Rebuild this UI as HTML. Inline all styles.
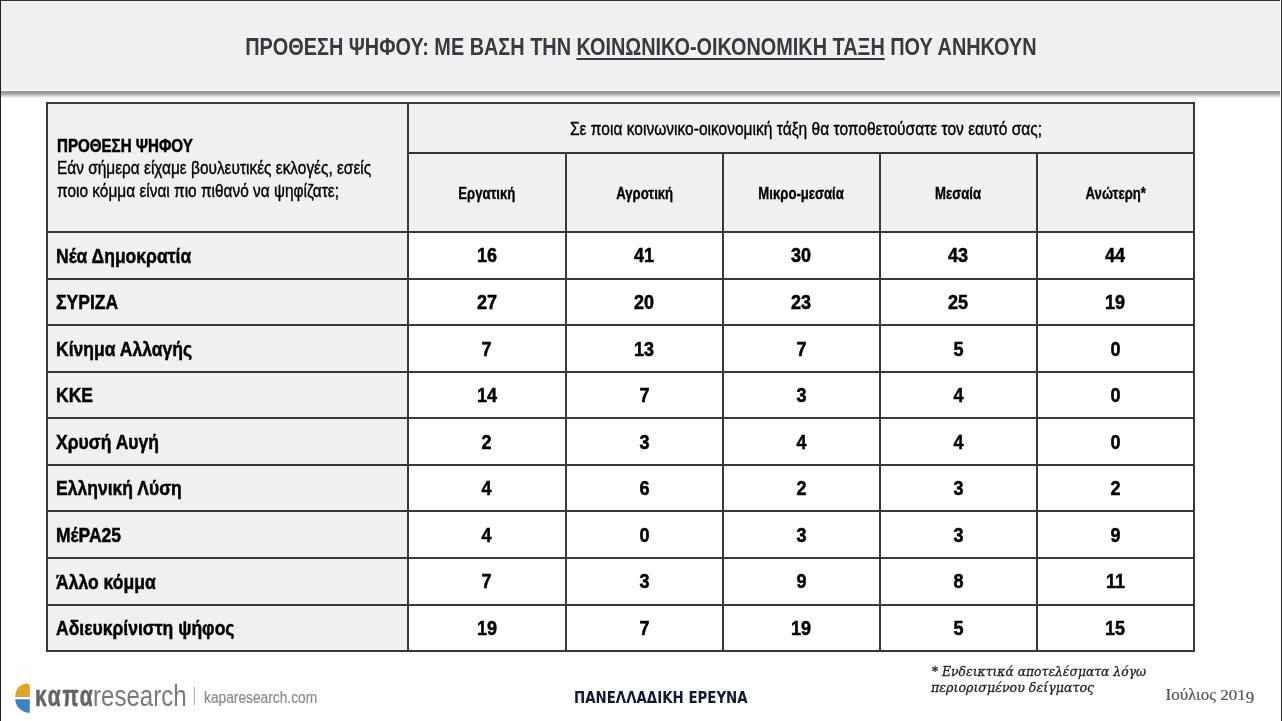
<!DOCTYPE html>
<html lang="el"><head><meta charset="utf-8"><title>Πρόθεση ψήφου</title>
<style>
html,body{margin:0;padding:0;}
body{width:1282px;height:721px;position:relative;overflow:hidden;background:#fff;font-family:'Liberation Sans', Arial, sans-serif;}
.t{position:absolute;white-space:nowrap;transform-origin:0 0;}
.c{position:absolute;white-space:nowrap;text-align:center;}
.c .s{display:inline-block;transform-origin:50% 50%;}
.b{position:absolute;}
</style></head><body>

<div class="b" style="left:0;top:0;width:1282px;height:91px;background:#f0f0f0"></div>
<div class="b" style="left:0;top:89px;width:1282px;height:2px;background:#f5f5f5"></div>
<div class="b" style="left:0;top:91px;width:1282px;height:9px;background:linear-gradient(#939393 0px,#9b9b9b 2px,#b2b2b2 3.5px,#d8d8d8 5px,#f3f3f3 6.5px,#fff 8px)"></div>
<div class="c" style="left:0;width:1282px;top:34.5px;font-size:24px;line-height:24px;font-weight:700;color:#3e3640"><span class="s" style="transform:scaleX(0.828)">ΠΡΟΘΕΣΗ ΨΗΦΟΥ: ΜΕ ΒΑΣΗ ΤΗΝ <span style="text-decoration:underline;text-decoration-thickness:2px;text-underline-offset:3px">ΚΟΙΝΩΝΙΚΟ-ΟΙΚΟΝΟΜΙΚΗ ΤΑΞΗ</span> ΠΟΥ ΑΝΗΚΟΥΝ</span></div>
<div class="b" style="left:46.5px;top:102.5px;width:1147.5px;height:129.55px;background:#f0f0f0"></div>
<div class="b" style="left:46.5px;top:232.05px;width:361.8px;height:419.15000000000003px;background:#f0f0f0"></div>
<div class="b" style="left:45.5px;top:101.5px;width:1149.5px;height:2.0px;background:#383838"></div>
<div class="b" style="left:407.3px;top:152.3px;width:787.7px;height:2.0px;background:#383838"></div>
<div class="b" style="left:45.5px;top:231.05px;width:1149.5px;height:2.0px;background:#383838"></div>
<div class="b" style="left:45.5px;top:277.5px;width:1149.5px;height:2.0px;background:#383838"></div>
<div class="b" style="left:45.5px;top:324.1px;width:1149.5px;height:2.0px;background:#383838"></div>
<div class="b" style="left:45.5px;top:370.7px;width:1149.5px;height:2.0px;background:#383838"></div>
<div class="b" style="left:45.5px;top:417.2px;width:1149.5px;height:2.0px;background:#383838"></div>
<div class="b" style="left:45.5px;top:463.9px;width:1149.5px;height:2.0px;background:#383838"></div>
<div class="b" style="left:45.5px;top:510.4px;width:1149.5px;height:2.0px;background:#383838"></div>
<div class="b" style="left:45.5px;top:557.0px;width:1149.5px;height:2.0px;background:#383838"></div>
<div class="b" style="left:45.5px;top:603.8px;width:1149.5px;height:2.0px;background:#383838"></div>
<div class="b" style="left:45.5px;top:650.2px;width:1149.5px;height:2.0px;background:#383838"></div>
<div class="b" style="left:45.5px;top:101.5px;width:2.0px;height:550.7px;background:#383838"></div>
<div class="b" style="left:407.3px;top:101.5px;width:2.0px;height:550.7px;background:#383838"></div>
<div class="b" style="left:564.7px;top:152.3px;width:2.0px;height:499.90000000000003px;background:#383838"></div>
<div class="b" style="left:721.9px;top:152.3px;width:2.0px;height:499.90000000000003px;background:#383838"></div>
<div class="b" style="left:878.9px;top:152.3px;width:2.0px;height:499.90000000000003px;background:#383838"></div>
<div class="b" style="left:1036.0px;top:152.3px;width:2.0px;height:499.90000000000003px;background:#383838"></div>
<div class="b" style="left:1193.0px;top:101.5px;width:2.0px;height:550.7px;background:#383838"></div>
<div class="t" style="left:57.1px;top:136.8px;font-size:18px;line-height:18px;font-weight:700;color:#000;font-family:'Liberation Sans', Arial, sans-serif;font-style:normal;transform:scale(0.84,1);-webkit-text-stroke:0.5px #000;">ΠΡΟΘΕΣΗ ΨΗΦΟΥ</div>
<div class="t" style="left:56.6px;top:158.8px;font-size:18px;line-height:18px;font-weight:400;color:#000;font-family:'Liberation Sans', Arial, sans-serif;font-style:normal;transform:scale(0.857,1);-webkit-text-stroke:0.38px #000;">Εάν σήμερα είχαμε βουλευτικές εκλογές, εσείς</div>
<div class="t" style="left:56.6px;top:181.5px;font-size:18px;line-height:18px;font-weight:400;color:#000;font-family:'Liberation Sans', Arial, sans-serif;font-style:normal;transform:scale(0.857,1);-webkit-text-stroke:0.38px #000;">ποιο κόμμα είναι πιο πιθανό να ψηφίζατε;</div>
<div class="t" style="left:569.5px;top:119.8px;font-size:18px;line-height:18px;font-weight:400;color:#000;font-family:'Liberation Sans', Arial, sans-serif;font-style:normal;transform:scale(0.863,1);-webkit-text-stroke:0.38px #000;">Σε ποια κοινωνικο-οικονομική τάξη θα τοποθετούσατε τον εαυτό σας;</div>
<div class="c" style="left:287.0px;width:400px;top:185.7px;font-size:16px;line-height:16px;font-weight:700;color:#000;font-family:'Liberation Sans', Arial, sans-serif;font-style:normal;-webkit-text-stroke:0.35px #000;"><span class="s" style="transform:scale(0.82,0.975)">Εργατική</span></div>
<div class="c" style="left:444.29999999999995px;width:400px;top:185.7px;font-size:16px;line-height:16px;font-weight:700;color:#000;font-family:'Liberation Sans', Arial, sans-serif;font-style:normal;-webkit-text-stroke:0.35px #000;"><span class="s" style="transform:scale(0.82,0.975)">Αγροτική</span></div>
<div class="c" style="left:601.4px;width:400px;top:185.7px;font-size:16px;line-height:16px;font-weight:700;color:#000;font-family:'Liberation Sans', Arial, sans-serif;font-style:normal;-webkit-text-stroke:0.35px #000;"><span class="s" style="transform:scale(0.82,0.975)">Μικρο-μεσαία</span></div>
<div class="c" style="left:758.45px;width:400px;top:185.7px;font-size:16px;line-height:16px;font-weight:700;color:#000;font-family:'Liberation Sans', Arial, sans-serif;font-style:normal;-webkit-text-stroke:0.35px #000;"><span class="s" style="transform:scale(0.82,0.975)">Μεσαία</span></div>
<div class="c" style="left:915.5px;width:400px;top:185.7px;font-size:16px;line-height:16px;font-weight:700;color:#000;font-family:'Liberation Sans', Arial, sans-serif;font-style:normal;-webkit-text-stroke:0.35px #000;"><span class="s" style="transform:scale(0.82,0.975)">Ανώτερη*</span></div>
<div class="t" style="left:56.2px;top:245.6px;font-size:20.8px;line-height:20.8px;font-weight:700;color:#000;font-family:'Liberation Sans', Arial, sans-serif;font-style:normal;transform:scale(0.843,1);-webkit-text-stroke:0.5px #000;">Νέα Δημοκρατία</div>
<div class="c" style="left:287.0px;width:400px;top:245.4px;font-size:20px;line-height:20px;font-weight:700;color:#000;font-family:'Liberation Sans', Arial, sans-serif;font-style:normal;-webkit-text-stroke:0.5px #000;"><span class="s" style="transform:scale(0.9,1)">16</span></div>
<div class="c" style="left:444.29999999999995px;width:400px;top:245.4px;font-size:20px;line-height:20px;font-weight:700;color:#000;font-family:'Liberation Sans', Arial, sans-serif;font-style:normal;-webkit-text-stroke:0.5px #000;"><span class="s" style="transform:scale(0.9,1)">41</span></div>
<div class="c" style="left:601.4px;width:400px;top:245.4px;font-size:20px;line-height:20px;font-weight:700;color:#000;font-family:'Liberation Sans', Arial, sans-serif;font-style:normal;-webkit-text-stroke:0.5px #000;"><span class="s" style="transform:scale(0.9,1)">30</span></div>
<div class="c" style="left:758.45px;width:400px;top:245.4px;font-size:20px;line-height:20px;font-weight:700;color:#000;font-family:'Liberation Sans', Arial, sans-serif;font-style:normal;-webkit-text-stroke:0.5px #000;"><span class="s" style="transform:scale(0.9,1)">43</span></div>
<div class="c" style="left:915.5px;width:400px;top:245.4px;font-size:20px;line-height:20px;font-weight:700;color:#000;font-family:'Liberation Sans', Arial, sans-serif;font-style:normal;-webkit-text-stroke:0.5px #000;"><span class="s" style="transform:scale(0.9,1)">44</span></div>
<div class="t" style="left:56.2px;top:292.15999999999997px;font-size:20.8px;line-height:20.8px;font-weight:700;color:#000;font-family:'Liberation Sans', Arial, sans-serif;font-style:normal;transform:scale(0.843,1);-webkit-text-stroke:0.5px #000;">ΣΥΡΙΖΑ</div>
<div class="c" style="left:287.0px;width:400px;top:291.96000000000004px;font-size:20px;line-height:20px;font-weight:700;color:#000;font-family:'Liberation Sans', Arial, sans-serif;font-style:normal;-webkit-text-stroke:0.5px #000;"><span class="s" style="transform:scale(0.9,1)">27</span></div>
<div class="c" style="left:444.29999999999995px;width:400px;top:291.96000000000004px;font-size:20px;line-height:20px;font-weight:700;color:#000;font-family:'Liberation Sans', Arial, sans-serif;font-style:normal;-webkit-text-stroke:0.5px #000;"><span class="s" style="transform:scale(0.9,1)">20</span></div>
<div class="c" style="left:601.4px;width:400px;top:291.96000000000004px;font-size:20px;line-height:20px;font-weight:700;color:#000;font-family:'Liberation Sans', Arial, sans-serif;font-style:normal;-webkit-text-stroke:0.5px #000;"><span class="s" style="transform:scale(0.9,1)">23</span></div>
<div class="c" style="left:758.45px;width:400px;top:291.96000000000004px;font-size:20px;line-height:20px;font-weight:700;color:#000;font-family:'Liberation Sans', Arial, sans-serif;font-style:normal;-webkit-text-stroke:0.5px #000;"><span class="s" style="transform:scale(0.9,1)">25</span></div>
<div class="c" style="left:915.5px;width:400px;top:291.96000000000004px;font-size:20px;line-height:20px;font-weight:700;color:#000;font-family:'Liberation Sans', Arial, sans-serif;font-style:normal;-webkit-text-stroke:0.5px #000;"><span class="s" style="transform:scale(0.9,1)">19</span></div>
<div class="t" style="left:56.2px;top:338.72px;font-size:20.8px;line-height:20.8px;font-weight:700;color:#000;font-family:'Liberation Sans', Arial, sans-serif;font-style:normal;transform:scale(0.843,1);-webkit-text-stroke:0.5px #000;">Κίνημα Αλλαγής</div>
<div class="c" style="left:287.0px;width:400px;top:338.52px;font-size:20px;line-height:20px;font-weight:700;color:#000;font-family:'Liberation Sans', Arial, sans-serif;font-style:normal;-webkit-text-stroke:0.5px #000;"><span class="s" style="transform:scale(0.9,1)">7</span></div>
<div class="c" style="left:444.29999999999995px;width:400px;top:338.52px;font-size:20px;line-height:20px;font-weight:700;color:#000;font-family:'Liberation Sans', Arial, sans-serif;font-style:normal;-webkit-text-stroke:0.5px #000;"><span class="s" style="transform:scale(0.9,1)">13</span></div>
<div class="c" style="left:601.4px;width:400px;top:338.52px;font-size:20px;line-height:20px;font-weight:700;color:#000;font-family:'Liberation Sans', Arial, sans-serif;font-style:normal;-webkit-text-stroke:0.5px #000;"><span class="s" style="transform:scale(0.9,1)">7</span></div>
<div class="c" style="left:758.45px;width:400px;top:338.52px;font-size:20px;line-height:20px;font-weight:700;color:#000;font-family:'Liberation Sans', Arial, sans-serif;font-style:normal;-webkit-text-stroke:0.5px #000;"><span class="s" style="transform:scale(0.9,1)">5</span></div>
<div class="c" style="left:915.5px;width:400px;top:338.52px;font-size:20px;line-height:20px;font-weight:700;color:#000;font-family:'Liberation Sans', Arial, sans-serif;font-style:normal;-webkit-text-stroke:0.5px #000;"><span class="s" style="transform:scale(0.9,1)">0</span></div>
<div class="t" style="left:56.2px;top:385.28px;font-size:20.8px;line-height:20.8px;font-weight:700;color:#000;font-family:'Liberation Sans', Arial, sans-serif;font-style:normal;transform:scale(0.843,1);-webkit-text-stroke:0.5px #000;">ΚΚΕ</div>
<div class="c" style="left:287.0px;width:400px;top:385.08000000000004px;font-size:20px;line-height:20px;font-weight:700;color:#000;font-family:'Liberation Sans', Arial, sans-serif;font-style:normal;-webkit-text-stroke:0.5px #000;"><span class="s" style="transform:scale(0.9,1)">14</span></div>
<div class="c" style="left:444.29999999999995px;width:400px;top:385.08000000000004px;font-size:20px;line-height:20px;font-weight:700;color:#000;font-family:'Liberation Sans', Arial, sans-serif;font-style:normal;-webkit-text-stroke:0.5px #000;"><span class="s" style="transform:scale(0.9,1)">7</span></div>
<div class="c" style="left:601.4px;width:400px;top:385.08000000000004px;font-size:20px;line-height:20px;font-weight:700;color:#000;font-family:'Liberation Sans', Arial, sans-serif;font-style:normal;-webkit-text-stroke:0.5px #000;"><span class="s" style="transform:scale(0.9,1)">3</span></div>
<div class="c" style="left:758.45px;width:400px;top:385.08000000000004px;font-size:20px;line-height:20px;font-weight:700;color:#000;font-family:'Liberation Sans', Arial, sans-serif;font-style:normal;-webkit-text-stroke:0.5px #000;"><span class="s" style="transform:scale(0.9,1)">4</span></div>
<div class="c" style="left:915.5px;width:400px;top:385.08000000000004px;font-size:20px;line-height:20px;font-weight:700;color:#000;font-family:'Liberation Sans', Arial, sans-serif;font-style:normal;-webkit-text-stroke:0.5px #000;"><span class="s" style="transform:scale(0.9,1)">0</span></div>
<div class="t" style="left:56.2px;top:431.84000000000003px;font-size:20.8px;line-height:20.8px;font-weight:700;color:#000;font-family:'Liberation Sans', Arial, sans-serif;font-style:normal;transform:scale(0.843,1);-webkit-text-stroke:0.5px #000;">Χρυσή Αυγή</div>
<div class="c" style="left:287.0px;width:400px;top:431.64px;font-size:20px;line-height:20px;font-weight:700;color:#000;font-family:'Liberation Sans', Arial, sans-serif;font-style:normal;-webkit-text-stroke:0.5px #000;"><span class="s" style="transform:scale(0.9,1)">2</span></div>
<div class="c" style="left:444.29999999999995px;width:400px;top:431.64px;font-size:20px;line-height:20px;font-weight:700;color:#000;font-family:'Liberation Sans', Arial, sans-serif;font-style:normal;-webkit-text-stroke:0.5px #000;"><span class="s" style="transform:scale(0.9,1)">3</span></div>
<div class="c" style="left:601.4px;width:400px;top:431.64px;font-size:20px;line-height:20px;font-weight:700;color:#000;font-family:'Liberation Sans', Arial, sans-serif;font-style:normal;-webkit-text-stroke:0.5px #000;"><span class="s" style="transform:scale(0.9,1)">4</span></div>
<div class="c" style="left:758.45px;width:400px;top:431.64px;font-size:20px;line-height:20px;font-weight:700;color:#000;font-family:'Liberation Sans', Arial, sans-serif;font-style:normal;-webkit-text-stroke:0.5px #000;"><span class="s" style="transform:scale(0.9,1)">4</span></div>
<div class="c" style="left:915.5px;width:400px;top:431.64px;font-size:20px;line-height:20px;font-weight:700;color:#000;font-family:'Liberation Sans', Arial, sans-serif;font-style:normal;-webkit-text-stroke:0.5px #000;"><span class="s" style="transform:scale(0.9,1)">0</span></div>
<div class="t" style="left:56.2px;top:478.4px;font-size:20.8px;line-height:20.8px;font-weight:700;color:#000;font-family:'Liberation Sans', Arial, sans-serif;font-style:normal;transform:scale(0.843,1);-webkit-text-stroke:0.5px #000;">Ελληνική Λύση</div>
<div class="c" style="left:287.0px;width:400px;top:478.20000000000005px;font-size:20px;line-height:20px;font-weight:700;color:#000;font-family:'Liberation Sans', Arial, sans-serif;font-style:normal;-webkit-text-stroke:0.5px #000;"><span class="s" style="transform:scale(0.9,1)">4</span></div>
<div class="c" style="left:444.29999999999995px;width:400px;top:478.20000000000005px;font-size:20px;line-height:20px;font-weight:700;color:#000;font-family:'Liberation Sans', Arial, sans-serif;font-style:normal;-webkit-text-stroke:0.5px #000;"><span class="s" style="transform:scale(0.9,1)">6</span></div>
<div class="c" style="left:601.4px;width:400px;top:478.20000000000005px;font-size:20px;line-height:20px;font-weight:700;color:#000;font-family:'Liberation Sans', Arial, sans-serif;font-style:normal;-webkit-text-stroke:0.5px #000;"><span class="s" style="transform:scale(0.9,1)">2</span></div>
<div class="c" style="left:758.45px;width:400px;top:478.20000000000005px;font-size:20px;line-height:20px;font-weight:700;color:#000;font-family:'Liberation Sans', Arial, sans-serif;font-style:normal;-webkit-text-stroke:0.5px #000;"><span class="s" style="transform:scale(0.9,1)">3</span></div>
<div class="c" style="left:915.5px;width:400px;top:478.20000000000005px;font-size:20px;line-height:20px;font-weight:700;color:#000;font-family:'Liberation Sans', Arial, sans-serif;font-style:normal;-webkit-text-stroke:0.5px #000;"><span class="s" style="transform:scale(0.9,1)">2</span></div>
<div class="t" style="left:56.2px;top:524.96px;font-size:20.8px;line-height:20.8px;font-weight:700;color:#000;font-family:'Liberation Sans', Arial, sans-serif;font-style:normal;transform:scale(0.843,1);-webkit-text-stroke:0.5px #000;">ΜέΡΑ25</div>
<div class="c" style="left:287.0px;width:400px;top:524.76px;font-size:20px;line-height:20px;font-weight:700;color:#000;font-family:'Liberation Sans', Arial, sans-serif;font-style:normal;-webkit-text-stroke:0.5px #000;"><span class="s" style="transform:scale(0.9,1)">4</span></div>
<div class="c" style="left:444.29999999999995px;width:400px;top:524.76px;font-size:20px;line-height:20px;font-weight:700;color:#000;font-family:'Liberation Sans', Arial, sans-serif;font-style:normal;-webkit-text-stroke:0.5px #000;"><span class="s" style="transform:scale(0.9,1)">0</span></div>
<div class="c" style="left:601.4px;width:400px;top:524.76px;font-size:20px;line-height:20px;font-weight:700;color:#000;font-family:'Liberation Sans', Arial, sans-serif;font-style:normal;-webkit-text-stroke:0.5px #000;"><span class="s" style="transform:scale(0.9,1)">3</span></div>
<div class="c" style="left:758.45px;width:400px;top:524.76px;font-size:20px;line-height:20px;font-weight:700;color:#000;font-family:'Liberation Sans', Arial, sans-serif;font-style:normal;-webkit-text-stroke:0.5px #000;"><span class="s" style="transform:scale(0.9,1)">3</span></div>
<div class="c" style="left:915.5px;width:400px;top:524.76px;font-size:20px;line-height:20px;font-weight:700;color:#000;font-family:'Liberation Sans', Arial, sans-serif;font-style:normal;-webkit-text-stroke:0.5px #000;"><span class="s" style="transform:scale(0.9,1)">9</span></div>
<div class="t" style="left:56.2px;top:571.52px;font-size:20.8px;line-height:20.8px;font-weight:700;color:#000;font-family:'Liberation Sans', Arial, sans-serif;font-style:normal;transform:scale(0.843,1);-webkit-text-stroke:0.5px #000;">Άλλο κόμμα</div>
<div class="c" style="left:287.0px;width:400px;top:571.32px;font-size:20px;line-height:20px;font-weight:700;color:#000;font-family:'Liberation Sans', Arial, sans-serif;font-style:normal;-webkit-text-stroke:0.5px #000;"><span class="s" style="transform:scale(0.9,1)">7</span></div>
<div class="c" style="left:444.29999999999995px;width:400px;top:571.32px;font-size:20px;line-height:20px;font-weight:700;color:#000;font-family:'Liberation Sans', Arial, sans-serif;font-style:normal;-webkit-text-stroke:0.5px #000;"><span class="s" style="transform:scale(0.9,1)">3</span></div>
<div class="c" style="left:601.4px;width:400px;top:571.32px;font-size:20px;line-height:20px;font-weight:700;color:#000;font-family:'Liberation Sans', Arial, sans-serif;font-style:normal;-webkit-text-stroke:0.5px #000;"><span class="s" style="transform:scale(0.9,1)">9</span></div>
<div class="c" style="left:758.45px;width:400px;top:571.32px;font-size:20px;line-height:20px;font-weight:700;color:#000;font-family:'Liberation Sans', Arial, sans-serif;font-style:normal;-webkit-text-stroke:0.5px #000;"><span class="s" style="transform:scale(0.9,1)">8</span></div>
<div class="c" style="left:915.5px;width:400px;top:571.32px;font-size:20px;line-height:20px;font-weight:700;color:#000;font-family:'Liberation Sans', Arial, sans-serif;font-style:normal;-webkit-text-stroke:0.5px #000;"><span class="s" style="transform:scale(0.9,1)">11</span></div>
<div class="t" style="left:56.2px;top:618.08px;font-size:20.8px;line-height:20.8px;font-weight:700;color:#000;font-family:'Liberation Sans', Arial, sans-serif;font-style:normal;transform:scale(0.843,1);-webkit-text-stroke:0.5px #000;">Αδιευκρίνιστη ψήφος</div>
<div class="c" style="left:287.0px;width:400px;top:617.88px;font-size:20px;line-height:20px;font-weight:700;color:#000;font-family:'Liberation Sans', Arial, sans-serif;font-style:normal;-webkit-text-stroke:0.5px #000;"><span class="s" style="transform:scale(0.9,1)">19</span></div>
<div class="c" style="left:444.29999999999995px;width:400px;top:617.88px;font-size:20px;line-height:20px;font-weight:700;color:#000;font-family:'Liberation Sans', Arial, sans-serif;font-style:normal;-webkit-text-stroke:0.5px #000;"><span class="s" style="transform:scale(0.9,1)">7</span></div>
<div class="c" style="left:601.4px;width:400px;top:617.88px;font-size:20px;line-height:20px;font-weight:700;color:#000;font-family:'Liberation Sans', Arial, sans-serif;font-style:normal;-webkit-text-stroke:0.5px #000;"><span class="s" style="transform:scale(0.9,1)">19</span></div>
<div class="c" style="left:758.45px;width:400px;top:617.88px;font-size:20px;line-height:20px;font-weight:700;color:#000;font-family:'Liberation Sans', Arial, sans-serif;font-style:normal;-webkit-text-stroke:0.5px #000;"><span class="s" style="transform:scale(0.9,1)">5</span></div>
<div class="c" style="left:915.5px;width:400px;top:617.88px;font-size:20px;line-height:20px;font-weight:700;color:#000;font-family:'Liberation Sans', Arial, sans-serif;font-style:normal;-webkit-text-stroke:0.5px #000;"><span class="s" style="transform:scale(0.9,1)">15</span></div>
<div class="b" style="left:0;top:0;width:1px;height:721px;background:#222"></div>
<div class="b" style="left:0;top:0;width:1282px;height:1px;background:#333"></div>
<div class="b" style="left:1280px;top:0;width:1px;height:721px;background:#fff"></div>
<div class="b" style="left:1281px;top:0;width:1px;height:721px;background:#2a2a2a"></div>
<svg class="b" style="left:0;top:670px" width="40" height="51" viewBox="0 670 40 51">
<path d="M29.8 697 L15.3 697 C15.3 690 18.5 684 27 683.4 Q29.8 683.4 29.8 686.5 Z" fill="#dfa22b"/>
<path d="M15.3 699.3 L29.8 699.3 L29.8 712.9 C21 712.3 15.3 706.5 15.3 699.3 Z" fill="#3a84c4"/>
</svg>
<div class="t" style="left:35px;top:681.3px;font-size:30px;line-height:30px;font-weight:700;color:#646464;font-family:'Liberation Sans', Arial, sans-serif;font-style:normal;transform:scale(0.7,1);-webkit-text-stroke:0.6px #646464;letter-spacing:2.5px;">καπα</div>
<div class="t" style="left:92.5px;top:682px;font-size:29px;line-height:29px;font-weight:400;color:#7a7a7a;font-family:'Liberation Sans', Arial, sans-serif;font-style:normal;transform:scale(0.83,1);">research</div>
<div class="b" style="left:194px;top:687px;width:1px;height:18px;background:#aaa"></div>
<div class="t" style="left:203.5px;top:689.7px;font-size:16px;line-height:16px;font-weight:400;color:#8a8a8a;font-family:'Liberation Sans', Arial, sans-serif;font-style:normal;transform:scale(0.86,1);-webkit-text-stroke:0.2px #8a8a8a;">kaparesearch.com</div>
<div class="t" style="left:574px;top:690.3px;font-size:16.5px;line-height:16.5px;font-weight:700;color:#0e1838;font-family:'DejaVu Sans', sans-serif;font-style:normal;transform:scale(0.81,1);">ΠΑΝΕΛΛΑΔΙΚΗ ΕΡΕΥΝΑ</div>
<div class="t" style="left:932px;top:664.5px;font-size:13px;line-height:13px;font-weight:400;color:#222;font-family:'DejaVu Serif', serif;font-style:italic;transform:scale(0.95,1);-webkit-text-stroke:0.3px #222;">* Ενδεικτικά αποτελέσματα λόγω</div>
<div class="t" style="left:931px;top:680.5px;font-size:13px;line-height:13px;font-weight:400;color:#222;font-family:'DejaVu Serif', serif;font-style:italic;transform:scale(0.97,1);-webkit-text-stroke:0.3px #222;">περιορισμένου δείγματος</div>
<div class="t" style="left:1165.5px;top:686px;font-size:17px;line-height:17px;font-weight:400;color:#555;font-family:'Liberation Serif', 'DejaVu Serif', serif;font-style:normal;transform:scale(1.0,1);-webkit-text-stroke:0.2px #555;">Ιούλιος <span style="display:inline-block;transform:scaleY(0.8);transform-origin:50% 14.2px">201</span><span style="display:inline-block;transform:translateY(3px)">9</span></div>
</body></html>
